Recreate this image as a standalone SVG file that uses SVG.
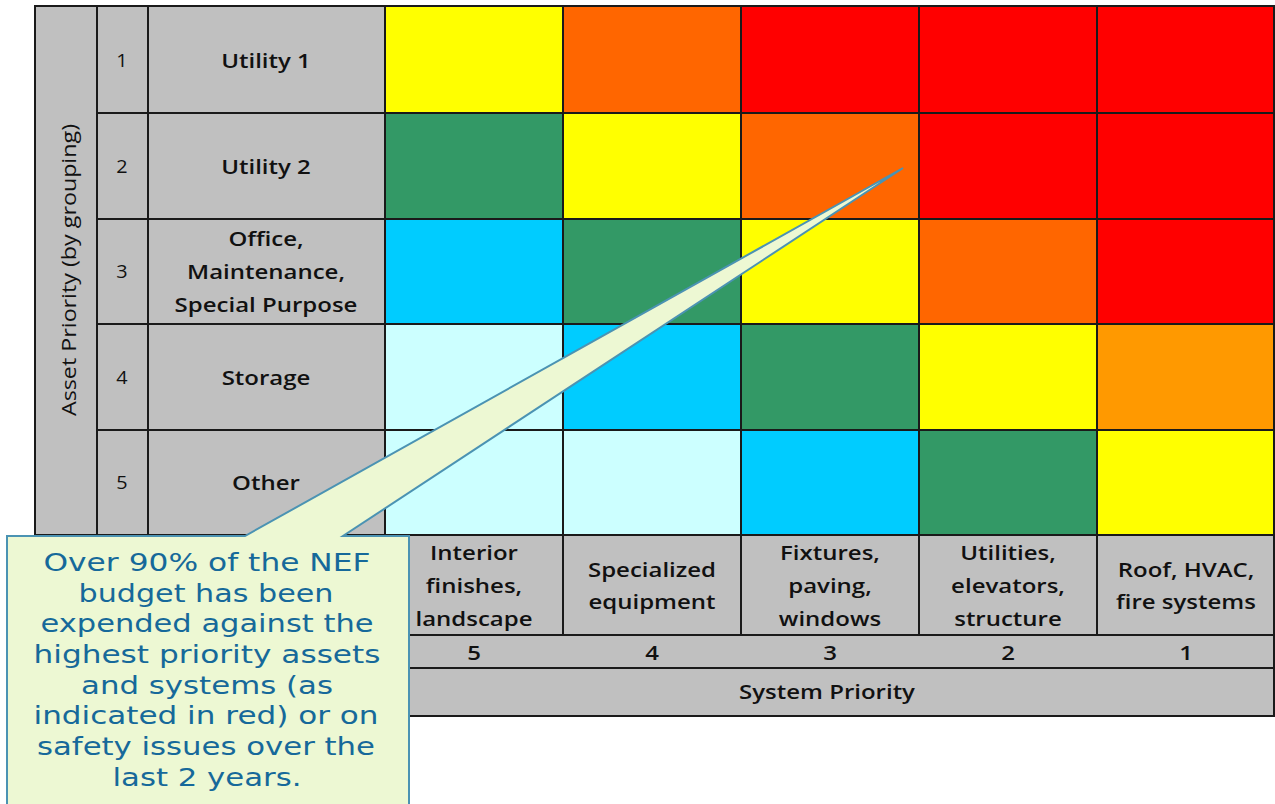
<svg xmlns="http://www.w3.org/2000/svg" width="1275" height="804" viewBox="0 0 1275 804">
<style>
.g{fill:#c0c0c0;stroke:#1a1a1a;stroke-width:2}
.c{stroke:#1a1a1a;stroke-width:2}
.ln{stroke:#1a1a1a;stroke-width:2;fill:none}
.t{font-family:"Open Sans","Liberation Sans",sans-serif;font-size:20px;fill:#111;text-anchor:middle;dominant-baseline:central}
.b{font-weight:600}
.n{font-size:18px}
.co{font-family:"DejaVu Sans","Liberation Sans",sans-serif;font-size:25px;fill:#16699a;text-anchor:middle;dominant-baseline:central}
</style>
<rect width="1275" height="804" fill="#ffffff"/>
<g id="left-frame">
<rect class="g" x="35" y="6" width="350" height="529"/>
<line class="ln" x1="97" y1="6" x2="97" y2="535"/>
<line class="ln" x1="148" y1="6" x2="148" y2="535"/>
<line class="ln" x1="97" y1="113" x2="385" y2="113"/>
<line class="ln" x1="97" y1="219" x2="385" y2="219"/>
<line class="ln" x1="97" y1="324" x2="385" y2="324"/>
<line class="ln" x1="97" y1="430" x2="385" y2="430"/>
<text class="t" x="68" y="270" transform="rotate(-90 68 270)" textLength="292" lengthAdjust="spacingAndGlyphs">Asset Priority (by grouping)</text>
</g>
<g id="asset-rows">
<g transform="matrix(1.1 0 0 1 -12.2 0)">
<text class="t n" x="122" y="60">1</text>
<text class="t n" x="122" y="166">2</text>
<text class="t n" x="122" y="271">3</text>
<text class="t n" x="122" y="377">4</text>
<text class="t n" x="122" y="482">5</text>
</g>
<g transform="matrix(1.2 0 0 1 -53.2 0)">
<text class="t b" x="266" y="60">Utility 1</text>
<text class="t b" x="266" y="166">Utility 2</text>
<text class="t b" x="266" y="238">Office,</text><text class="t b" x="266" y="271">Maintenance,</text><text class="t b" x="266" y="304">Special Purpose</text>
<text class="t b" x="266" y="377">Storage</text>
<text class="t b" x="266" y="482">Other</text>
</g>
</g>
<g id="matrix">
<rect class="c" x="385" y="6" width="178" height="107" fill="#ffff00"/>
<rect class="c" x="563" y="6" width="178" height="107" fill="#ff6600"/>
<rect class="c" x="741" y="6" width="178" height="107" fill="#ff0000"/>
<rect class="c" x="919" y="6" width="178" height="107" fill="#ff0000"/>
<rect class="c" x="1097" y="6" width="177" height="107" fill="#ff0000"/>
<rect class="c" x="385" y="113" width="178" height="106" fill="#339966"/>
<rect class="c" x="563" y="113" width="178" height="106" fill="#ffff00"/>
<rect class="c" x="741" y="113" width="178" height="106" fill="#ff6600"/>
<rect class="c" x="919" y="113" width="178" height="106" fill="#ff0000"/>
<rect class="c" x="1097" y="113" width="177" height="106" fill="#ff0000"/>
<rect class="c" x="385" y="219" width="178" height="105" fill="#00ccff"/>
<rect class="c" x="563" y="219" width="178" height="105" fill="#339966"/>
<rect class="c" x="741" y="219" width="178" height="105" fill="#ffff00"/>
<rect class="c" x="919" y="219" width="178" height="105" fill="#ff6600"/>
<rect class="c" x="1097" y="219" width="177" height="105" fill="#ff0000"/>
<rect class="c" x="385" y="324" width="178" height="106" fill="#ccffff"/>
<rect class="c" x="563" y="324" width="178" height="106" fill="#00ccff"/>
<rect class="c" x="741" y="324" width="178" height="106" fill="#339966"/>
<rect class="c" x="919" y="324" width="178" height="106" fill="#ffff00"/>
<rect class="c" x="1097" y="324" width="177" height="106" fill="#ff9900"/>
<rect class="c" x="385" y="430" width="178" height="105" fill="#ccffff"/>
<rect class="c" x="563" y="430" width="178" height="105" fill="#ccffff"/>
<rect class="c" x="741" y="430" width="178" height="105" fill="#00ccff"/>
<rect class="c" x="919" y="430" width="178" height="105" fill="#339966"/>
<rect class="c" x="1097" y="430" width="177" height="105" fill="#ffff00"/>
</g>
<g id="system-axis">
<rect class="g" x="385" y="535" width="889" height="181"/>
<line class="ln" x1="385" y1="635" x2="1274" y2="635"/>
<line class="ln" x1="385" y1="668" x2="1274" y2="668"/>
<line class="ln" x1="563" y1="535" x2="563" y2="635"/>
<line class="ln" x1="741" y1="535" x2="741" y2="635"/>
<line class="ln" x1="919" y1="535" x2="919" y2="635"/>
<line class="ln" x1="1097" y1="535" x2="1097" y2="635"/>
<g transform="matrix(1.2 0 0 1 -94.8 0)"><text class="t b" x="474" y="552">Interior</text><text class="t b" x="474" y="585">finishes,</text><text class="t b" x="474" y="618">landscape</text><text class="t b" x="474" y="652">5</text></g>
<g transform="matrix(1.2 0 0 1 -130.4 0)"><text class="t b" x="652" y="569">Specialized</text><text class="t b" x="652" y="601">equipment</text><text class="t b" x="652" y="652">4</text></g>
<g transform="matrix(1.2 0 0 1 -166 0)"><text class="t b" x="830" y="552">Fixtures,</text><text class="t b" x="830" y="585">paving,</text><text class="t b" x="830" y="618">windows</text><text class="t b" x="830" y="652">3</text></g>
<g transform="matrix(1.2 0 0 1 -201.6 0)"><text class="t b" x="1008" y="552">Utilities,</text><text class="t b" x="1008" y="585">elevators,</text><text class="t b" x="1008" y="618">structure</text><text class="t b" x="1008" y="652">2</text></g>
<g transform="matrix(1.2 0 0 1 -237.2 0)"><text class="t b" x="1186" y="569">Roof, HVAC,</text><text class="t b" x="1186" y="601">fire systems</text><text class="t b" x="1186" y="652">1</text></g>
<g transform="matrix(1.2 0 0 1 -165.4 0)"><text class="t b" x="827" y="691">System Priority</text></g>
</g>
<g id="callout">
<path d="M7,536 L245,536 L903,168 L343,536 L409,536 L409,806 L7,806 Z" fill="#edf8d3" stroke="#4b93b3" stroke-width="2" stroke-linejoin="miter"/>
<text class="co" x="207" y="562" textLength="327" lengthAdjust="spacingAndGlyphs">Over 90% of the NEF</text>
<text class="co" x="206" y="593" textLength="255" lengthAdjust="spacingAndGlyphs">budget has been</text>
<text class="co" x="207" y="623" textLength="333" lengthAdjust="spacingAndGlyphs">expended against the</text>
<text class="co" x="207" y="654" textLength="347" lengthAdjust="spacingAndGlyphs">highest priority assets</text>
<text class="co" x="207" y="685" textLength="252" lengthAdjust="spacingAndGlyphs">and systems (as</text>
<text class="co" x="206" y="715" textLength="345" lengthAdjust="spacingAndGlyphs">indicated in red) or on</text>
<text class="co" x="206" y="746" textLength="338" lengthAdjust="spacingAndGlyphs">safety issues over the</text>
<text class="co" x="207" y="777" textLength="189" lengthAdjust="spacingAndGlyphs">last 2 years.</text>
</g>
</svg>
